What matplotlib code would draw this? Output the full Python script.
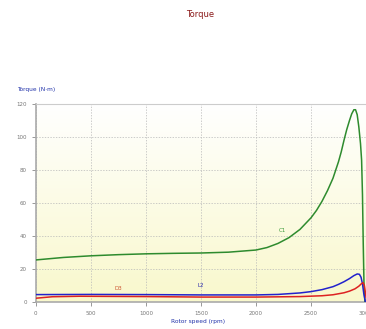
import numpy as np
import matplotlib.pyplot as plt
from matplotlib.colors import LinearSegmentedColormap

# Curvas de torque (rpm, N·m)
c1_speed = [0, 250, 500, 750, 1000, 1250, 1500, 1750, 2000, 2100, 2200, 2300,
            2400, 2500, 2550, 2600, 2650, 2700, 2750, 2775, 2800, 2825, 2850,
            2870, 2890, 2905, 2920, 2935, 2950, 2960, 2968, 2975, 2982, 2990]
c1_torque = [25.5, 27, 28, 28.7, 29.2, 29.5, 29.7, 30.2, 31.5, 33, 35.5, 39,
             44, 51, 55.5, 61, 67.5, 75, 85, 91, 98, 104.5, 110,
             114, 116.5, 116.5, 113.5, 106, 96, 86, 65, 35, 10, 0]

l2_speed = [0, 500, 1000, 1500, 2000, 2200, 2400, 2500, 2600, 2700, 2750,
            2800, 2850, 2890, 2920, 2940, 2955, 2968, 2980, 2995]
l2_torque = [4.5, 4.6, 4.5, 4.3, 4.3, 4.6, 5.5, 6.3, 7.5, 9.3, 10.7,
             12.3, 14.2, 16, 17, 16.8, 15, 11, 5, 0]

d3_speed = [0, 150, 400, 1000, 1500, 2000, 2400, 2600, 2700, 2800, 2850,
            2900, 2935, 2960, 2975, 2985, 2993, 3000]
d3_torque = [2.3, 3.2, 3.5, 3.3, 3.0, 3.0, 3.3, 3.8, 4.4, 5.6, 6.6,
             8.0, 9.6, 11.2, 11.7, 10, 6.5, 3]

labels = ["C1", "L2", "D3"]
label_pos = [(2240, 42), (1500, 8.5), (750, 6.5)]
colors = ["#2e8b2e", "#2222cc", "#dd2222"]
label_colors = ["#3a9a3a", "#2222aa", "#cc5533"]

fig = plt.figure(figsize=(3.66, 3.29), dpi=100)
ax = fig.add_axes([0.098, 0.082, 0.902, 0.602])

# fundo em degradê (amarelo claro embaixo -> branco em cima)
cmap = LinearSegmentedColormap.from_list("bg", ["#f9f8cc", "#ffffff"])
grad = np.linspace(0, 1, 256).reshape(-1, 1)
ax.imshow(grad, aspect="auto", cmap=cmap, origin="lower",
          extent=[0, 3000, 0, 120], zorder=0)

for xs, ys, c in zip([c1_speed, l2_speed, d3_speed],
                     [c1_torque, l2_torque, d3_torque], colors):
    ax.plot(xs, ys, color=c, linewidth=1.1, zorder=3,
            solid_joinstyle="round")

for lab, (x, y), c in zip(labels, label_pos, label_colors):
    ax.text(x, y, lab, color=c, fontsize=4, ha="center", va="bottom", zorder=4)

ax.set_xlim(0, 3000)
ax.set_ylim(0, 120)
ax.set_xticks(range(0, 3001, 500))
ax.set_yticks(range(0, 121, 20))
ax.grid(True, color="#b8b8b8", linestyle=(0, (2, 2)), linewidth=0.5)
ax.tick_params(labelsize=4, colors="#888888", length=3, width=0.6,
               labelcolor="#777777")

for s in ["left", "bottom"]:
    ax.spines[s].set_color("#aaaaaa")
    ax.spines[s].set_linewidth(1.2)
ax.spines["top"].set_color("#cccccc")
ax.spines["top"].set_linewidth(0.8)
ax.spines["right"].set_visible(False)

fig.text(0.546, 0.957, "Torque", color="#8b1a1a", fontsize=6,
         ha="center", va="center")
fig.text(0.046, 0.728, "Torque (N·m)", color="#2233aa", fontsize=4.2,
         ha="left", va="center")
fig.text(0.54, 0.022, "Rotor speed (rpm)", color="#2233aa", fontsize=4.2,
         ha="center", va="center")

fig.savefig("out.png", dpi=100)
